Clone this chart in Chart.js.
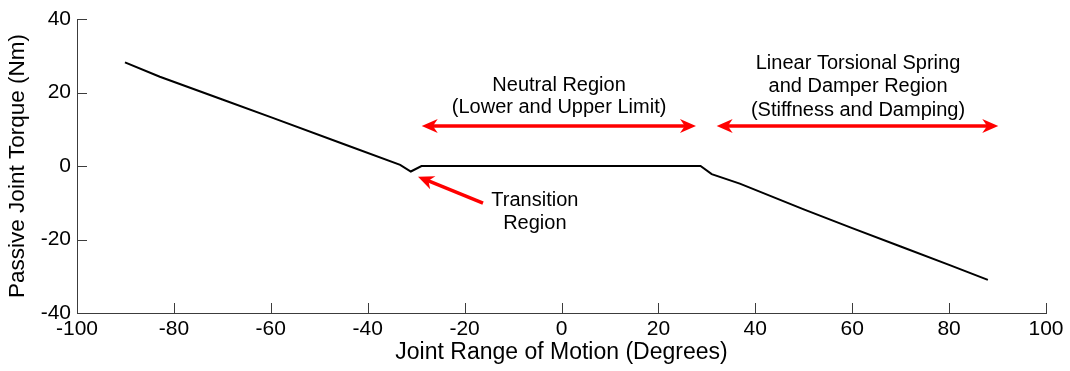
<!DOCTYPE html>
<html><head><meta charset="utf-8">
<script src="https://cdn.jsdelivr.net/npm/chart.js@4/dist/chart.umd.min.js"></script>
<style>html,body{margin:0;padding:0;background:#fff;overflow:hidden}</style>
</head><body>
<canvas id="c" width="1070" height="371"></canvas>
<script>
// ---- data ----
const angleDeg = [-90.1, -82.9, -70, -59.6, -45, -33.3, -31.1, -28.9, 0, 28.7, 31.0, 36.8, 50, 60, 70, 80, 88.0];
const torqueNm = [28.2, 24.3, 18.1, 13.1, 6.0, 0.3, -1.5, 0, 0, 0, -2.2, -4.8, -11.8, -16.9, -21.9, -26.9, -31.0];
const xTicks = [-100, -80, -60, -40, -20, 0, 20, 40, 60, 80, 100];
const yTicks = [-40, -20, 0, 20, 40];
const xTitle = 'Joint Range of Motion (Degrees)';
const yTitle = 'Passive Joint Torque (Nm)';

// annotation texts (data coordinates)
const noteTexts = [
  {x: -0.5, y: 22.0, text: 'Neutral Region'},
  {x: -0.5, y: 15.8, text: '(Lower and Upper Limit)'},
  {x: 61.2, y: 28.0, text: 'Linear Torsional Spring'},
  {x: 61.2, y: 21.6, text: 'and Damper Region'},
  {x: 61.2, y: 15.2, text: '(Stiffness and Damping)'},
  {x: -5.5, y: -9.3, text: 'Transition'},
  {x: -5.5, y: -15.6, text: 'Region'}
];
// arrows: from (x1,y1) to (x2,y2); double = head at both ends
const noteArrows = [
  {x1: -28.85, y1: 10.9, x2: 27.76, y2: 10.9, double: true},
  {x1: 32.03, y1: 10.9, x2: 90.15, y2: 10.9, double: true},
  {x1: -16.2, y1: -10.07, x2: -29.62, y2: -2.9, double: false}
];

const FONT = '"Liberation Sans", Arial, Helvetica, sans-serif';

function head(ctx, tx, ty, fx, fy) {
  const a = Math.atan2(ty - fy, tx - fx);
  const L = 16, W = 7;
  ctx.save();
  ctx.translate(tx, ty);
  ctx.rotate(a);
  ctx.beginPath();
  ctx.moveTo(0, 0);
  ctx.lineTo(-L, -W);
  ctx.lineTo(-L * 0.7, 0);
  ctx.lineTo(-L, W);
  ctx.closePath();
  ctx.fill();
  ctx.restore();
}

const overlay = {
  id: 'overlay',
  afterDraw(chart) {
    const ctx = chart.ctx, xs = chart.scales.x, ys = chart.scales.y;
    const ca = chart.chartArea;
    ctx.save();
    // inward ticks
    ctx.strokeStyle = '#3c3c3c';
    ctx.lineWidth = 1;
    ctx.beginPath();
    xTicks.forEach(v => {
      const px = Math.round(xs.getPixelForValue(v)) + 0.5;
      ctx.moveTo(px, ca.bottom);
      ctx.lineTo(px, ca.bottom - 10);
    });
    yTicks.forEach(v => {
      const py = Math.round(ys.getPixelForValue(v)) + 0.5;
      ctx.moveTo(ca.left, py);
      ctx.lineTo(ca.left + 10, py);
    });
    ctx.stroke();
    // arrows
    ctx.strokeStyle = '#ff0000';
    ctx.fillStyle = '#ff0000';
    ctx.lineWidth = 3.5;
    noteArrows.forEach(a => {
      const x1 = xs.getPixelForValue(a.x1), y1 = ys.getPixelForValue(a.y1);
      const x2 = xs.getPixelForValue(a.x2), y2 = ys.getPixelForValue(a.y2);
      const ang = Math.atan2(y2 - y1, x2 - x1);
      const s = a.double ? 10 : 0;
      ctx.beginPath();
      ctx.moveTo(x1 + Math.cos(ang) * s, y1 + Math.sin(ang) * s);
      ctx.lineTo(x2 - Math.cos(ang) * 10, y2 - Math.sin(ang) * 10);
      ctx.stroke();
      head(ctx, x2, y2, x1, y1);
      if (a.double) head(ctx, x1, y1, x2, y2);
    });
    // texts
    ctx.fillStyle = '#000';
    ctx.font = '20px ' + FONT;
    ctx.textAlign = 'center';
    ctx.textBaseline = 'middle';
    noteTexts.forEach(t => {
      ctx.fillText(t.text, xs.getPixelForValue(t.x), ys.getPixelForValue(t.y));
    });
    ctx.restore();
  }
};

new Chart(document.getElementById('c'), {
  type: 'scatter',
  data: {
    datasets: [{
      data: angleDeg.map((a, i) => ({x: a, y: torqueNm[i]})),
      showLine: true,
      borderColor: '#000',
      borderWidth: 2,
      pointRadius: 0,
      tension: 0,
      fill: false
    }]
  },
  options: {
    responsive: false,
    animation: false,
    devicePixelRatio: 1,
    layout: {padding: {left: 0, right: 24, top: 19, bottom: 0}},
    plugins: {legend: {display: false}, tooltip: {enabled: false}},
    scales: {
      x: {
        type: 'linear', min: -100, max: 100,
        afterBuildTicks: s => { s.ticks = xTicks.map(v => ({value: v})); },
        afterFit: s => { s.height = 58; },
        grid: {display: false, drawTicks: false},
        border: {display: true, color: '#3c3c3c', width: 1},
        ticks: {color: '#000', font: {family: FONT, size: 21}, padding: 4, maxRotation: 0, autoSkip: false},
        title: {display: true, text: xTitle, color: '#000', font: {family: FONT, size: 23}, padding: {top: 0, bottom: 5}}
      },
      y: {
        type: 'linear', min: -40, max: 40,
        afterBuildTicks: s => { s.ticks = yTicks.map(v => ({value: v})); },
        afterFit: s => { s.width = 77; },
        grid: {display: false, drawTicks: false},
        border: {display: true, color: '#3c3c3c', width: 1},
        ticks: {color: '#000', font: {family: FONT, size: 21}, padding: 6, autoSkip: false},
        title: {display: true, text: yTitle, color: '#000', font: {family: FONT, size: 22.5}, padding: {top: 4, bottom: 0}}
      }
    }
  },
  plugins: [overlay]
});
</script>
</body></html>
